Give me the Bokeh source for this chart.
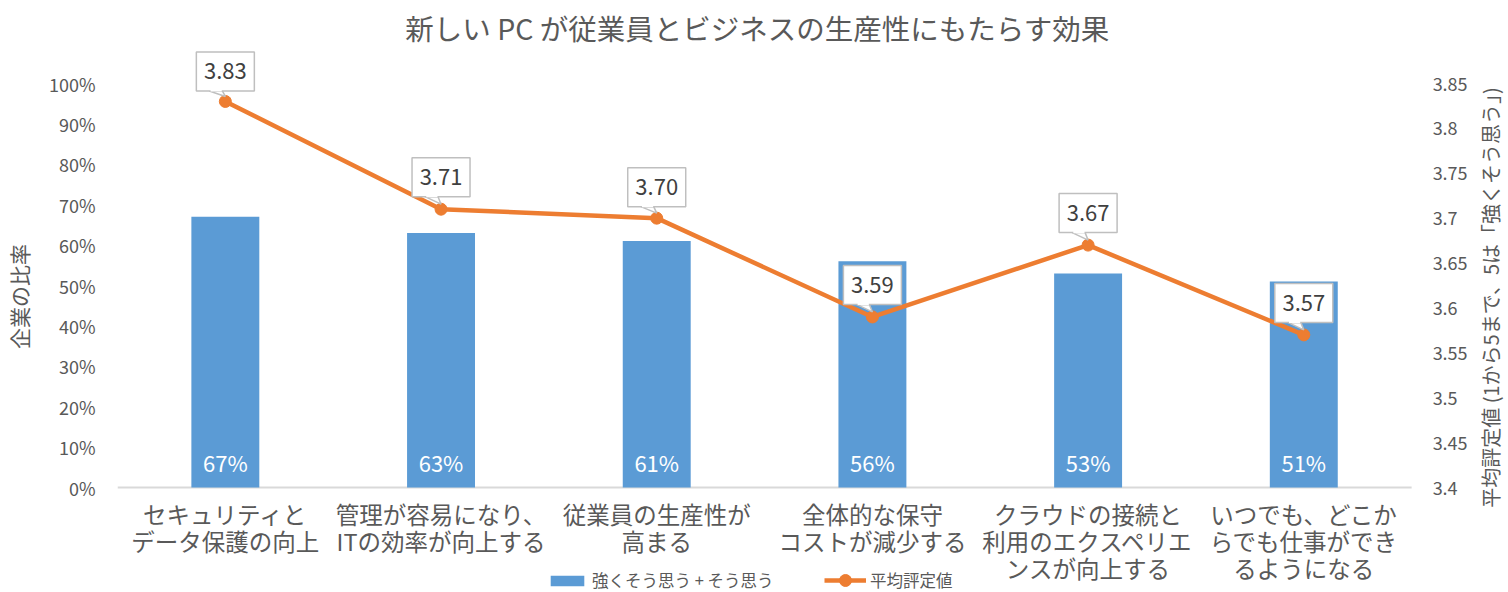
import math
from bokeh.plotting import figure
from bokeh.models import (Range1d, LinearAxis, FixedTicker, NumeralTickFormatter,
                          ColumnDataSource, Legend, LegendItem)
from bokeh.core.properties import value
from bokeh.embed import file_html
from bokeh.resources import INLINE

title_text = "新しい PC が従業員とビジネスの生産性にもたらす効果"
categories = ["セキュリティと\nデータ保護の向上",
              "管理が容易になり、\nITの効率が向上する",
              "従業員の生産性が\n高まる",
              "全体的な保守\nコストが減少する",
              "クラウドの接続と\n利用のエクスペリエ\nンスが向上する",
              "いつでも、どこか\nらでも仕事ができ\nるようになる"]
bar_name = "強くそう思う + そう思う"
line_name = "平均評定値"
left_title = "企業の比率"
right_title = "平均評定値 (1から5まで、5は「強くそう思う」)"
agree_share = [0.67, 0.63, 0.61, 0.56, 0.53, 0.51]
avg_rating = [3.83, 3.71, 3.70, 3.59, 3.67, 3.57]
left_ticks = [0, 0.1, 0.2, 0.3, 0.4, 0.5, 0.6, 0.7, 0.8, 0.9, 1.0]
right_ticks = [3.4, 3.45, 3.5, 3.55, 3.6, 3.65, 3.7, 3.75, 3.8, 3.85]

FONT = "Noto Sans CJK JP"
TXT = "#595959"
BLUE = "#5B9BD5"
ORANGE = "#ED7D31"

# layout (figure pixels); the frame spans the full height and runs to the right edge
W, H = 1508, 592
ML = 115
PLOT_RIGHT = 1411           # pixel column of the plotting area's right edge
PW = PLOT_RIGHT - ML
Y100, Y0 = 83, 487          # pixel rows of the 100% and 0% lines
SCALE_PX = Y0 - Y100
L0, L1 = 0.0, 1.0
R0, R1 = 3.4, 3.85
n = len(categories)
px_x = n / PW
px_l = (L1 - L0) / SCALE_PX
px_r = (R1 - R0) / SCALE_PX
x_rng = Range1d(0, n + (W - PLOT_RIGHT) * px_x)
l_rng = Range1d(L0 - (H - Y0) * px_l, L1 + Y100 * px_l)
r_rng = Range1d(R0 - (H - Y0) * px_r, R1 + Y100 * px_r)

xs = [i + 0.5 for i in range(n)]

p = figure(width=W, height=H, x_range=x_rng, y_range=l_rng,
           x_axis_location=None, output_backend="svg", toolbar_location=None,
           min_border_left=ML, min_border_right=0, min_border_top=0, min_border_bottom=0,
           background_fill_color="white", border_fill_color="white")
p.outline_line_color = None
p.grid.visible = False
p.extra_y_ranges = {"r": r_rng}

# left axis
ya = p.yaxis[0]
ya.ticker = FixedTicker(ticks=left_ticks)
ya.formatter = NumeralTickFormatter(format="0%")
ya.major_label_text_font = FONT
ya.major_label_text_font_size = "18px"
ya.major_label_text_color = TXT
ya.major_label_standoff = 16
ya.major_tick_line_color = None
ya.minor_tick_line_color = None
ya.axis_line_color = None
ya.axis_label = left_title
ya.axis_label_text_font = FONT
ya.axis_label_text_font_size = "21px"
ya.axis_label_text_font_style = "normal"
ya.axis_label_text_color = TXT
ya.axis_label_standoff = 12

# right axis, pinned to the right edge of the plotting area
ra = LinearAxis(y_range_name="r", ticker=FixedTicker(ticks=right_ticks),
                formatter=NumeralTickFormatter(format="0.0[0]"), fixed_location=n)
ra.major_label_text_font = FONT
ra.major_label_text_font_size = "18px"
ra.major_label_text_color = TXT
ra.major_label_standoff = 15
ra.major_tick_line_color = None
ra.minor_tick_line_color = None
ra.axis_line_color = None
p.add_layout(ra, "right")

# right axis title, reading bottom to top
p.text(x=[n + 79 * px_x], y=[R0 + (Y0 - 292) * px_r], text=[right_title], y_range_name="r",
       angle=math.pi / 2, text_align="center", text_baseline="middle", text_color=TXT,
       text_font=value(FONT), text_font_size="20px")

# baseline of the category axis
p.segment(x0=[0], y0=[L0], x1=[n], y1=[L0], line_color="#D9D9D9", line_width=2)

# category labels, one row per text line
lx, ly, lt, loff = [], [], [], []
for x, c in zip(xs, categories):
    for i, part in enumerate(c.split("\n")):
        lx.append(x)
        ly.append(L0)
        lt.append(part)
        loff.append(26 + 27 * i)
p.text(x=lx, y=ly, text=lt, y_offset=loff, text_align="center", text_baseline="middle",
       text_color=TXT, text_font=value(FONT), text_font_size="23.5px")

# bars
bsrc = ColumnDataSource(dict(x=xs, top=agree_share,
                             lab=[f"{round(v*100)}%" for v in agree_share],
                             y0=[L0]*n))
bars = p.vbar(x="x", top="top", width=0.315, source=bsrc, fill_color=BLUE, line_color=None)
p.text(x="x", y="y0", text="lab", source=bsrc, text_align="center", text_baseline="middle",
       y_offset=-26, text_color="white", text_font=value(FONT), text_font_size="22px")

# line
lsrc = ColumnDataSource(dict(x=xs, y=avg_rating))
ln = p.line(x="x", y="y", source=lsrc, y_range_name="r", line_color=ORANGE, line_width=4.5)
mk = p.scatter(x="x", y="y", source=lsrc, y_range_name="r", size=12,
               fill_color=ORANGE, line_color=ORANGE)

# callouts
box_dx = [0, 0, 0, 0, 0, 0]            # px offsets of box centre from point
box_dy = [30, 32, 31, 32, 32, 32]
BW, BH = 58, 39
bx = [x + dx * px_x for x, dx in zip(xs, box_dx)]
by = [y + dy * px_r for y, dy in zip(avg_rating, box_dy)]
tails_x, tails_y = [], []
for x, y, cx, cy in zip(xs, avg_rating, bx, by):
    bottom = cy - (BH / 2) * px_r
    tails_x.append([cx - 16 * px_x, cx - 3 * px_x, x])
    tails_y.append([bottom, bottom, y + 5 * px_r])
p.patches(xs=tails_x, ys=tails_y, y_range_name="r", fill_color="white",
          line_color="#BFBFBF", line_width=1.5)
csrc = ColumnDataSource(dict(x=bx, y=by, t=[f"{v:.2f}" for v in avg_rating]))
p.rect(x="x", y="y", width=BW, height=BH, width_units="screen", height_units="screen",
       source=csrc, y_range_name="r", fill_color="white", line_color="#BFBFBF", line_width=1.5)
p.patches(xs=[[a[0] + 1.2 * px_x, a[1] - 0.6 * px_x, a[1] - 0.6 * px_x, a[0] + 1.2 * px_x] for a in tails_x],
          ys=[[b[0] + 2 * px_r, b[0] + 2 * px_r, b[0] - 0.6 * px_r, b[0] - 0.6 * px_r] for b in tails_y],
          y_range_name="r", fill_color="white", line_color=None)
p.text(x="x", y="y", text="t", source=csrc, y_range_name="r", text_align="center",
       text_baseline="middle", text_color="#404040", text_font=value(FONT), text_font_size="22px")

# chart title (drawn in the frame, above the plotting area)
p.text(x=[n / 2 - 7 * px_x], y=[L1 + (Y100 - 27) * px_l], text=[title_text],
       text_align="center", text_baseline="middle", text_color=TXT,
       text_font=value(FONT), text_font_size="28.5px")

legend_style = dict(orientation="horizontal", label_text_font=FONT,
                    label_text_font_size="16.5px", label_text_color=TXT, glyph_width=42,
                    padding=0, margin=0, border_line_color=None,
                    background_fill_alpha=0, label_standoff=4)
p.add_layout(Legend(items=[LegendItem(label=bar_name, renderers=[bars])],
                    location=(429, 0), glyph_height=13, **legend_style))
p.add_layout(Legend(items=[LegendItem(label=line_name, renderers=[ln, mk])],
                    location=(707, -3), glyph_height=30, **legend_style))

open("out.html", "w").write(file_html(p, INLINE))
